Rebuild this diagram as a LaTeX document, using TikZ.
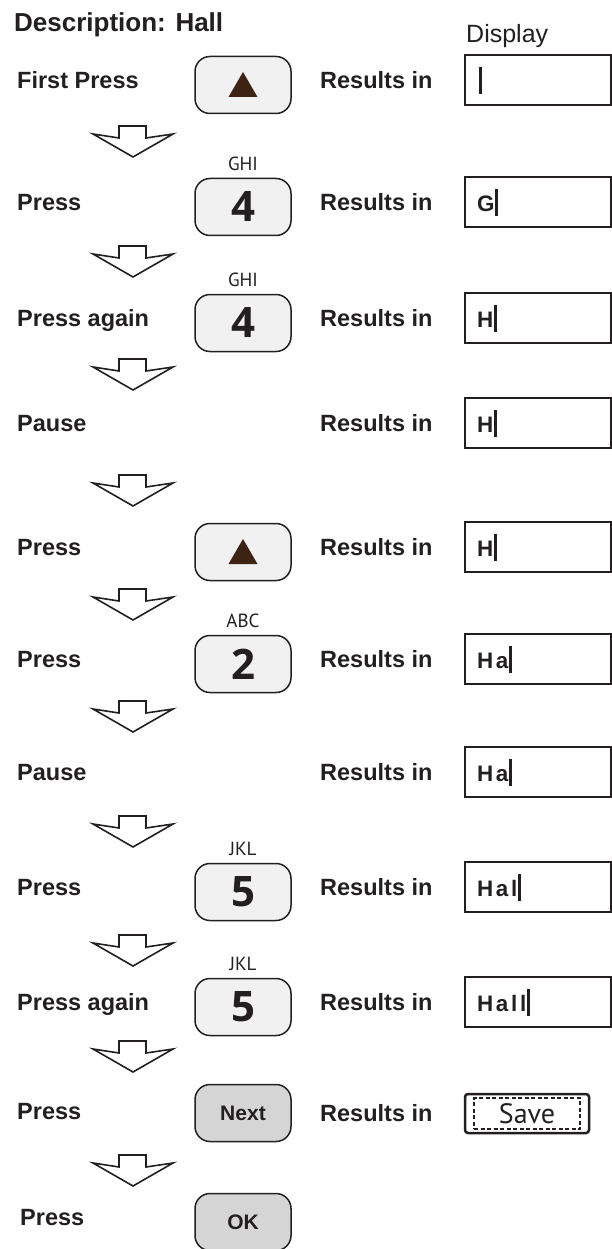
\documentclass[tikz,border=0pt]{standalone}
\usepackage{fontspec}
\setmainfont{Liberation Sans}
\newfontfamily\keyfont{PT Sans}
\newfontfamily\digitfont{Open Sans}
\newfontfamily\dispfont[LetterSpace=12]{Liberation Sans}
\usetikzlibrary{positioning}
\definecolor{ink}{HTML}{231F20}
\definecolor{keyfill}{HTML}{F1F1F1}
\definecolor{softfill}{HTML}{D5D5D6}
\definecolor{tipfill}{HTML}{3D2314}
\tikzset{
    base/.style = {inner sep=0pt, text=ink},
    % Texts
    steplabel/.style = {base, anchor=west, text height=16.8pt, text depth=0pt,
        font=\fontsize{23.5pt}{28pt}\selectfont\bfseries},
    lettering/.style = {base, font=\keyfont\fontsize{19pt}{20pt}\selectfont},
    disptext/.style  = {base, anchor=base west, font=\dispfont\fontsize{22.4pt}{24pt}\selectfont\bfseries},
    % Keys and displays
    keybox/.style  = {base, draw=ink, line width=1.5pt, rounded corners=15pt, fill=keyfill,
        minimum width=96pt, minimum height=57pt},
    numkey/.style  = {keybox, font=\digitfont\fontsize{42pt}{42pt}\selectfont\bfseries},
    softkey/.style = {keybox, fill=softfill, font=\fontsize{21pt}{24pt}\selectfont\bfseries},
    display/.style = {draw=ink, line width=2.2pt, minimum width=146pt, minimum height=50pt, inner sep=0pt},
    cursor/.style  = {ink, line width=2.6pt},
    uptri/.style   = {fill=tipfill},
    flowdown/.pic  = {\draw[ink, line width=1.6pt, fill=white, line join=miter]
        (-14,0) -- (13,0) -- (13,12) -- (40,8) -- (0,31) -- (-40,8) -- (-14,12) -- cycle;}
}

\begin{document}
\begin{tikzpicture}[x=1pt, y=-1pt]
    \useasboundingbox (0,0) rectangle (612,1249);

    % Heading
    \node[steplabel, font=\fontsize{26pt}{30pt}\selectfont\bfseries, text height=18.6pt] (title) at (14,22) {Description: Hall};
    \node[base, anchor=base west, font=\fontsize{25pt}{28pt}\selectfont] (head) at (466,43) {Display};

    % Row 1
    \node[steplabel] (s1) at (17,80) {First Press};
    \node[keybox] (k1) at (243,85) {};
    \fill[uptri] ([yshift=13pt]k1.center) -- ([xshift=14.5pt,yshift=-12pt]k1.center) -- ([xshift=-14.5pt,yshift=-12pt]k1.center) -- cycle;
    \node[steplabel] (r1) at (320,80) {Results in};
    \node[display] (d1) at (538,80) {};
    \node[disptext] (t1) at ([xshift=13pt,yshift=-36pt]d1.north west) {};

    % Row 2
    \node[steplabel] (s2) at (17,202) {Press};
    \node[numkey] (k2) at (243,207) {4};
    \node[lettering, above=7pt of k2] (l2) {GHI};
    \node[steplabel] (r2) at (320,202) {Results in};
    \node[display] (d2) at (538,202) {};
    \node[disptext] (t2) at ([xshift=13pt,yshift=-36pt]d2.north west) {G};

    % Row 3
    \node[steplabel] (s3) at (17,318) {Press again};
    \node[numkey] (k3) at (243,323) {4};
    \node[lettering, above=7pt of k3] (l3) {GHI};
    \node[steplabel] (r3) at (320,318) {Results in};
    \node[display] (d3) at (538,318) {};
    \node[disptext] (t3) at ([xshift=13pt,yshift=-36pt]d3.north west) {H};

    % Row 4
    \node[steplabel] (s4) at (17,423) {Pause};
    \node[steplabel] (r4) at (320,423) {Results in};
    \node[display] (d4) at (538,423) {};
    \node[disptext] (t4) at ([xshift=13pt,yshift=-36pt]d4.north west) {H};

    % Row 5
    \node[steplabel] (s5) at (17,547) {Press};
    \node[keybox] (k5) at (243,552) {};
    \fill[uptri] ([yshift=13pt]k5.center) -- ([xshift=14.5pt,yshift=-12pt]k5.center) -- ([xshift=-14.5pt,yshift=-12pt]k5.center) -- cycle;
    \node[steplabel] (r5) at (320,547) {Results in};
    \node[display] (d5) at (538,547) {};
    \node[disptext] (t5) at ([xshift=13pt,yshift=-36pt]d5.north west) {H};

    % Row 6
    \node[steplabel] (s6) at (17,659) {Press};
    \node[numkey] (k6) at (243,664) {2};
    \node[lettering, above=7pt of k6] (l6) {ABC};
    \node[steplabel] (r6) at (320,659) {Results in};
    \node[display] (d6) at (538,659) {};
    \node[disptext] (t6) at ([xshift=13pt,yshift=-36pt]d6.north west) {Ha};

    % Row 7
    \node[steplabel] (s7) at (17,772) {Pause};
    \node[steplabel] (r7) at (320,772) {Results in};
    \node[display] (d7) at (538,772) {};
    \node[disptext] (t7) at ([xshift=13pt,yshift=-36pt]d7.north west) {Ha};

    % Row 8
    \node[steplabel] (s8) at (17,887) {Press};
    \node[numkey] (k8) at (243,892) {5};
    \node[lettering, above=7pt of k8] (l8) {JKL};
    \node[steplabel] (r8) at (320,887) {Results in};
    \node[display] (d8) at (538,887) {};
    \node[disptext] (t8) at ([xshift=13pt,yshift=-36pt]d8.north west) {Hal};

    % Row 9
    \node[steplabel] (s9) at (17,1002) {Press again};
    \node[numkey] (k9) at (243,1007) {5};
    \node[lettering, above=7pt of k9] (l9) {JKL};
    \node[steplabel] (r9) at (320,1002) {Results in};
    \node[display] (d9) at (538,1002) {};
    \node[disptext] (t9) at ([xshift=13pt,yshift=-36pt]d9.north west) {Hall};

    % Cursors
    \foreach \t in {t1,t2,t3,t4,t5,t6,t7,t8,t9}
        \draw[cursor] ([xshift=2pt,yshift=-4pt]\t.base east) -- ++(0,-27);

    % Row 10
    \node[steplabel] (s10) at (17,1111) {Press};
    \node[softkey] (k10) at (243,1113) {Next};
    \node[steplabel] (r10) at (320,1113) {Results in};
    \node[display, rounded corners=3pt, line width=2.5pt, minimum width=124pt, minimum height=39pt] (d10) at (527,1113.5) {};
    \node[base, draw=ink, dashed, dash pattern=on 4pt off 2.5pt, line width=1.3pt, minimum width=106pt, minimum height=31pt,
        font=\keyfont\fontsize{28pt}{28pt}\selectfont] (save) at (d10.center) {Save};

    % Row 11
    \node[steplabel] (s11) at (20,1217) {Press};
    \node[softkey] (k11) at (243,1222) {OK};

    % Flow arrows
    \foreach \y in {126,246,359,475,589,701,816,935,1041,1155}
        \pic at (133,\y) {flowdown};
\end{tikzpicture}
\end{document}
